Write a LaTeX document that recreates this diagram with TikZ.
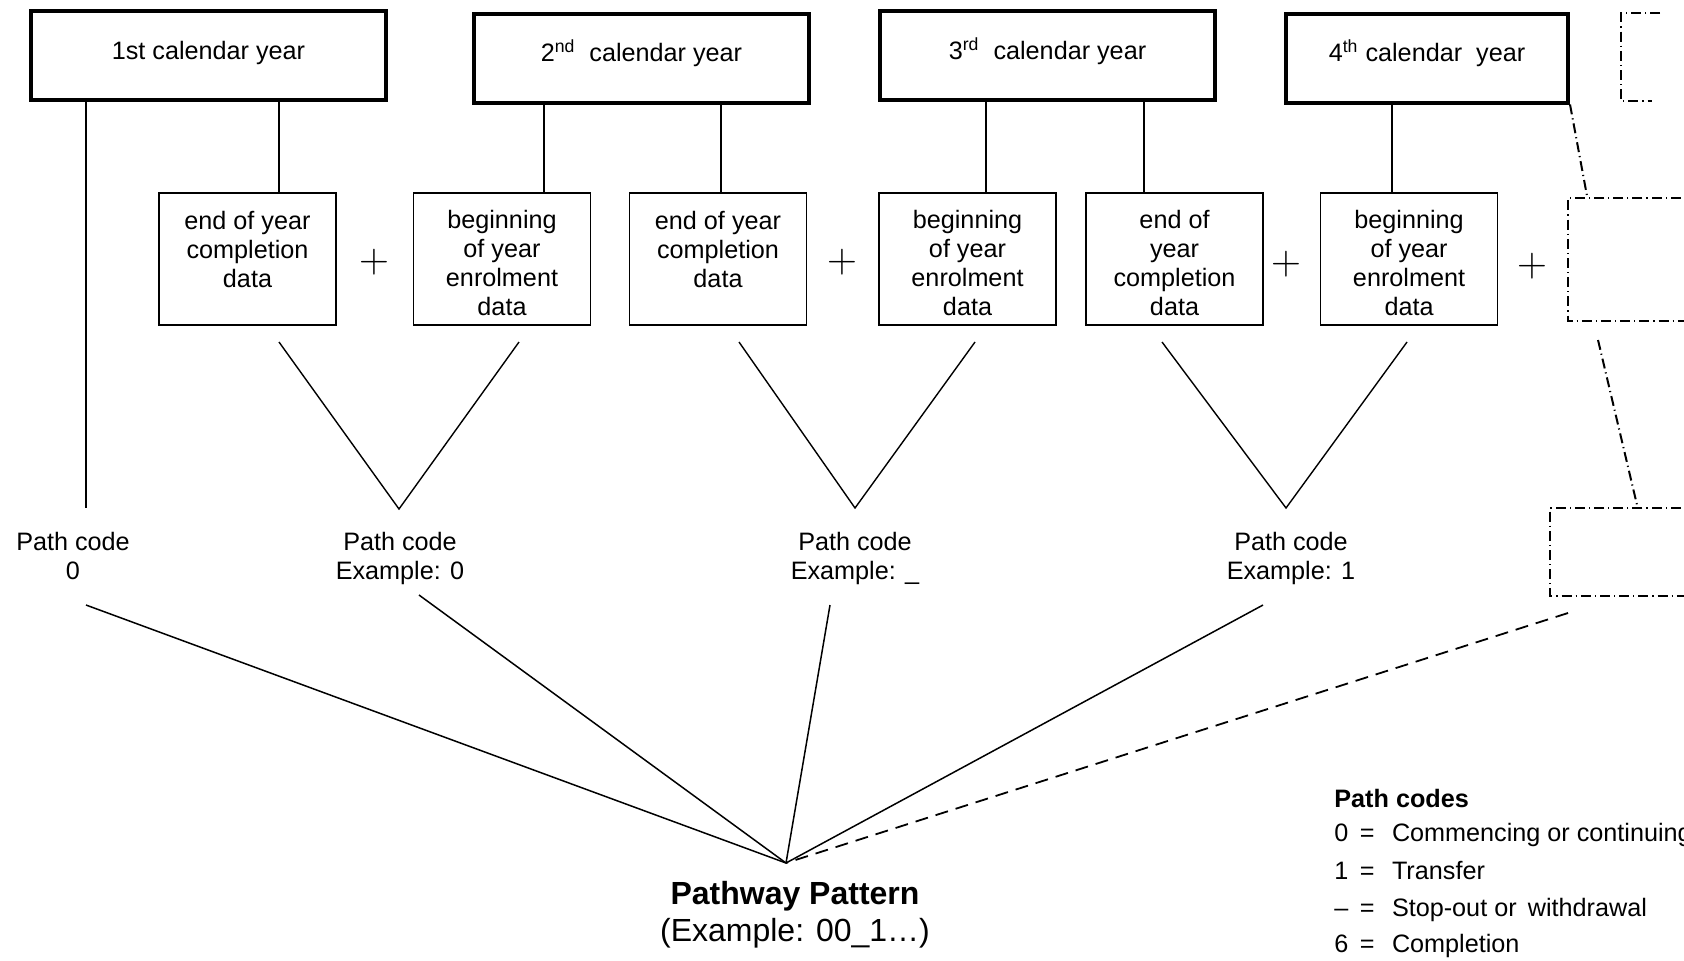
\documentclass[tikz,border=0pt]{standalone}
\usepackage{fontspec}
\setmainfont{Liberation Sans}
% one legend row: code, equals sign, meaning
\newcommand{\pcentry}[2]{\makebox[12.7pt][l]{#1}\makebox[7.3pt]{=}\hspace{8.8pt}#2}
% extra room above the first line of a data box
\newcommand{\topgap}{\rule{0pt}{13.5pt}}
\begin{document}
\begin{tikzpicture}[x=0.5pt,y=-0.5pt,
  every node/.style={font=\fontsize{12.6}{14.5}\selectfont, inner sep=0pt},
  yearbox/.style={draw, line width=2pt, minimum height=44.5pt,
    text height=9.3pt, text depth=5.7pt},
  databox/.style={draw, line width=0.9pt, minimum width=88.5pt,
    minimum height=66pt, align=center},
  linkline/.style={line width=0.75pt},
  veeline/.style={line width=0.7pt},
  dashdotline/.style={line width=1pt, dash pattern=on 5pt off 2pt on 0.6pt off 2pt},
  dashedline/.style={line width=0.9pt, dash pattern=on 6.5pt off 4pt},
  codelabel/.style={align=center},
  plussign/.style={font=\fontsize{20.74}{21}\selectfont},
  legendrow/.style={anchor=west}
]
\useasboundingbox (0,0) rectangle (1684,960);
\clip (0,0) rectangle (1684,960);

% calendar years
\node[yearbox, minimum width=177.5pt] (y1) at (208.5,55.5) {1st calendar year};
\node[yearbox, minimum width=167.5pt] (y2) at (641.5,58) {2\textsuperscript{nd}\ \ calendar year};
\node[yearbox, minimum width=167.5pt] (y3) at (1047.5,55.5) {3\textsuperscript{rd}\ \ calendar year};
\node[yearbox, minimum width=141pt] (y4) at (1427,58) {4\textsuperscript{th} calendar\ \ year};

% data collections
\node[databox] (a) at (247.5,259) {\topgap end of year\\completion\\data\\\mbox{}};
\node[databox] (b) at (502,259) {\topgap beginning\\of year\\enrolment\\data};
\node[databox] (c) at (718,259) {\topgap end of year\\completion\\data\\\mbox{}};
\node[databox] (d) at (967.5,259) {\topgap beginning\\of year\\enrolment\\data};
\node[databox] (e) at (1174.5,259) {\topgap end of\\year\\completion\\data};
\node[databox] (f) at (1409,259) {\topgap beginning\\of year\\enrolment\\data};

% plus signs between the collections
\node[plussign] (pl1) at (374,262) {$+$};
\node[plussign] (pl2) at (842,262) {$+$};
\node[plussign] (pl3) at (1286,264) {$+$};
\node[plussign] (pl4) at (1532,266) {$+$};

% later years, open-ended
\draw[dashdotline] (1660,13) -- (1621,13) -- (1621,101) -- (1652,101);
\draw[dashdotline] (1700,198) -- (1568,198) -- (1568,321) -- (1700,321);
\draw[dashdotline] (1700,508) -- (1550,508) -- (1550,596) -- (1700,596);
\coordinate (gin) at (1587,196);
\coordinate (gout) at (1598,340);
\coordinate (hin) at (1637,505);
\coordinate (hout) at (1568,613);
\draw[dashdotline] (y4.south east) -- (gin);
\draw[dashdotline] (gout) -- (hin);

% years to collections
\draw[linkline] (279,0 |- y1.south) -- (279,0 |- a.north);
\draw[linkline] (544,0 |- y2.south) -- (544,0 |- b.north);
\draw[linkline] (721,0 |- y2.south) -- (721,0 |- c.north);
\draw[linkline] (986,0 |- y3.south) -- (986,0 |- d.north);
\draw[linkline] (1144,0 |- y3.south) -- (1144,0 |- e.north);
\draw[linkline] (1392,0 |- y4.south) -- (1392,0 |- f.north);
\coordinate (v0) at (86,508);
\draw[linkline] (86,0 |- y1.south) -- (v0);

% path code labels
\node[codelabel] (p0) at (73,556) {Path code\\0};
\node[codelabel] (p1) at (400,558) {Path code\\Example: 0};
\node[codelabel] (p2) at (855,558) {Path code\\Example: \_};
\node[codelabel] (p3) at (1291,558) {Path code\\Example: 1};

% pairs of collections merged into one code
\coordinate (v1) at (399,509);
\coordinate (v2) at (855,508);
\coordinate (v3) at (1286,508);
\draw[veeline] (279,342) -- (v1) -- (519,342);
\draw[veeline] (739,342) -- (v2) -- (975,342);
\draw[veeline] (1162,342) -- (v3) -- (1407,342);

% codes combined into the pattern
\coordinate (apex) at (786,863);
\coordinate (s0) at (86,605);
\coordinate (s1) at (419,595);
\coordinate (s2) at (830,605);
\coordinate (s3) at (1263,605);
\draw[linkline] (s0) -- (apex);
\draw[linkline] (s1) -- (apex);
\draw[linkline] (s2) -- (apex);
\draw[linkline] (s3) -- (apex);
\draw[dashedline] (hout) -- (apex);

\node[align=center, font=\fontsize{16}{18.5}\selectfont] (pp) at (795,915)
  {\textbf{Pathway Pattern}\\(Example: 00\_1…)};

% legend
\node[legendrow] (lh) at (1334,798) {\textbf{Path codes}};
\node[legendrow] (l0) at (1334,835) {\pcentry{0}{Commencing or continuing}};
\node[legendrow] (l1) at (1334,870) {\pcentry{1}{Transfer}};
\node[legendrow] (l2) at (1334,910) {\pcentry{–}{Stop-out or \,withdrawal}};
\node[legendrow] (l3) at (1334,946) {\pcentry{6}{Completion}};
\end{tikzpicture}
\end{document}
